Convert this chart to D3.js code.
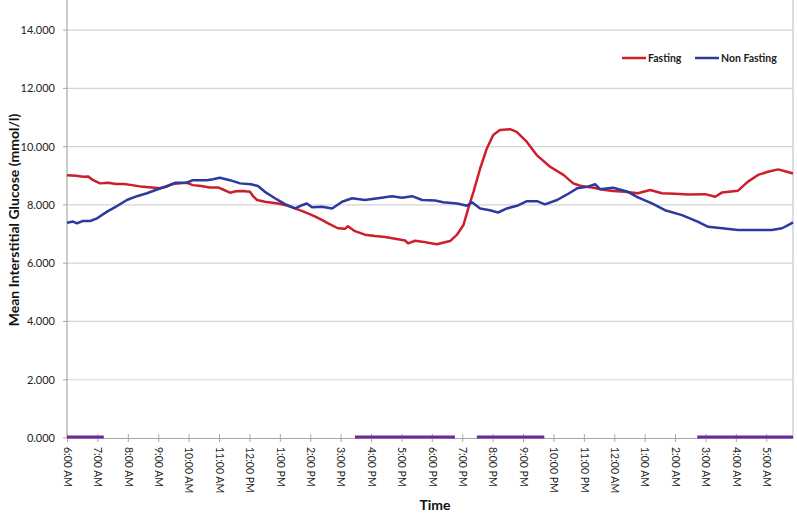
<!DOCTYPE html>
<html>
<head>
<meta charset="utf-8">
<script src="https://cdn.jsdelivr.net/npm/d3@7"></script>
<style>
  html, body { margin: 0; padding: 0; background: #fff; }
  svg { display: block; }
  text { font-family: Lato, "Open Sans", "Liberation Sans", sans-serif; }
</style>
</head>
<body>
<svg id="chart" width="797" height="514"></svg>
<script>
// Hours after 6:00 AM
const fastingHours = [0,0.3,0.53,0.69,0.86,1.09,1.35,1.61,1.88,2.14,2.5,2.8,3.06,3.26,3.49,3.72,3.95,4.14,4.41,4.7,4.97,5.13,5.36,5.56,5.76,6.02,6.12,6.25,6.51,6.94,7.24,7.5,7.76,8.06,8.32,8.59,8.91,9.14,9.24,9.47,9.8,10.13,10.46,10.89,11.12,11.22,11.45,11.68,11.88,12.17,12.43,12.6,12.82,13.04,13.2,13.37,13.59,13.81,14.02,14.24,14.57,14.79,15.12,15.45,15.89,16.33,16.65,16.88,17.31,17.7,17.96,18.36,18.78,19.18,19.57,20.0,20.43,20.99,21.32,21.55,22.07,22.4,22.73,23.06,23.39,23.68,23.88];
const fastingGlucose = [9.02,9.0,8.97,8.98,8.85,8.74,8.76,8.72,8.72,8.68,8.62,8.6,8.57,8.62,8.72,8.74,8.76,8.68,8.65,8.6,8.6,8.53,8.42,8.47,8.48,8.45,8.3,8.17,8.11,8.05,7.98,7.88,7.78,7.65,7.52,7.37,7.2,7.18,7.27,7.1,6.98,6.93,6.9,6.82,6.78,6.68,6.77,6.74,6.7,6.65,6.72,6.76,6.97,7.31,7.88,8.45,9.25,9.94,10.4,10.57,10.6,10.51,10.17,9.71,9.31,9.03,8.74,8.66,8.59,8.51,8.48,8.45,8.4,8.51,8.4,8.38,8.36,8.37,8.28,8.43,8.49,8.8,9.03,9.14,9.22,9.14,9.08];

const nonFastingHours = [0,0.2,0.33,0.53,0.76,0.99,1.32,1.64,1.97,2.3,2.63,2.96,3.29,3.55,3.95,4.14,4.6,4.8,5.03,5.36,5.69,6.05,6.28,6.51,6.84,7.17,7.5,7.7,7.89,8.06,8.39,8.72,9.05,9.38,9.8,10.23,10.69,11.02,11.35,11.68,12.11,12.37,12.83,13.16,13.32,13.59,13.91,14.18,14.47,14.8,15.13,15.46,15.72,16.12,16.45,16.78,17.11,17.37,17.53,17.96,18.45,18.78,19.24,19.67,20.23,20.76,21.09,21.55,22.07,22.63,23.19,23.52,23.78,23.88];
const nonFastingGlucose = [7.39,7.43,7.37,7.45,7.45,7.54,7.77,7.96,8.17,8.3,8.4,8.53,8.65,8.76,8.77,8.85,8.85,8.88,8.93,8.85,8.74,8.71,8.65,8.45,8.23,8.03,7.88,7.98,8.05,7.92,7.94,7.88,8.11,8.23,8.17,8.23,8.3,8.25,8.3,8.17,8.15,8.09,8.05,7.97,8.09,7.88,7.82,7.74,7.88,7.97,8.13,8.13,8.02,8.17,8.36,8.57,8.62,8.71,8.54,8.59,8.45,8.26,8.05,7.82,7.65,7.42,7.25,7.2,7.14,7.14,7.14,7.2,7.34,7.4];

// Periods marked along the baseline (hours after 6:00 AM)
const periodStart = [0, 9.47, 13.48, 20.73];
const periodEnd   = [1.21, 12.76, 15.7, 23.88];

const timeLabels = ["6:00 AM","7:00 AM","8:00 AM","9:00 AM","10:00 AM","11:00 AM","12:00 PM","1:00 PM","2:00 PM","3:00 PM","4:00 PM","5:00 PM","6:00 PM","7:00 PM","8:00 PM","9:00 PM","10:00 PM","11:00 PM","12:00 AM","1:00 AM","2:00 AM","3:00 AM","4:00 AM","5:00 AM"];
const yTicks = [0,2,4,6,8,10,12,14];

const seriesNames = ["Fasting", "Non Fasting"];
const seriesColors = ["#cc1f2b", "#2a3a9f"];

const svg = d3.select("#chart");
const x = d3.scaleLinear().domain([0, 23.88]).range([67, 793]);
const y = d3.scaleLinear().domain([0, 15]).range([438, 1]);

// gridlines
svg.append("g").selectAll("line").data(yTicks.filter(d => d > 0)).join("line")
  .attr("x1", x(0)).attr("x2", x(23.88))
  .attr("y1", d => y(d)).attr("y2", d => y(d))
  .attr("stroke", "#d4d4d4").attr("stroke-width", 1.2);

// left axis line and right border
svg.append("line").attr("x1", x(0)).attr("x2", x(0)).attr("y1", 0).attr("y2", y(0))
  .attr("stroke", "#a8a8a8").attr("stroke-width", 1.2);
svg.append("line").attr("x1", x(23.88)).attr("x2", x(23.88)).attr("y1", 0).attr("y2", y(0))
  .attr("stroke", "#c8c8c8").attr("stroke-width", 1.2);

// y tick labels
svg.append("g").selectAll("text").data(yTicks).join("text")
  .attr("x", 55).attr("y", d => y(d)).attr("dy", "0.35em")
  .attr("text-anchor", "end").attr("font-size", 11).attr("fill", "#222")
  .text(d => d3.format(".3f")(d));
// y tick marks
svg.append("g").selectAll("line").data(yTicks).join("line")
  .attr("x1", x(0) - 4).attr("x2", x(0)).attr("y1", d => y(d)).attr("y2", d => y(d))
  .attr("stroke", "#a8a8a8");

// x axis
const xAxis = d3.axisBottom(x)
  .tickValues(d3.range(timeLabels.length))
  .tickFormat((d, i) => timeLabels[i])
  .tickSizeInner(4).tickSizeOuter(0);
const gx = svg.append("g").attr("transform", `translate(0,${y(0)})`).call(xAxis);
gx.select(".domain").attr("stroke", "#a8a8a8").attr("stroke-width", 1.2);
gx.selectAll(".tick line").attr("stroke", "#a8a8a8").attr("y1", -4).attr("y2", 4);
gx.selectAll(".tick text")
  .attr("font-family", "Lato, 'Open Sans', sans-serif")
  .attr("font-size", 10.5).attr("fill", "#222")
  .attr("text-anchor", "start")
  .attr("transform", "rotate(90)")
  .attr("x", 9).attr("y", 0).attr("dy", "0.35em");

// baseline periods
svg.append("g").selectAll("line").data(periodStart).join("line")
  .attr("x1", d => x(d)).attr("x2", (d, i) => x(periodEnd[i]))
  .attr("y1", y(0) - 1).attr("y2", y(0) - 1)
  .attr("stroke", "#6a2a9a").attr("stroke-width", 3);

// lines
const line = d3.line().x(d => x(d[0])).y(d => y(d[1])).curve(d3.curveLinear);
const fastingData = fastingHours.map((h, i) => [h, fastingGlucose[i]]);
const nonFastingData = nonFastingHours.map((h, i) => [h, nonFastingGlucose[i]]);
svg.append("path").datum(fastingData).attr("d", line)
  .attr("fill", "none").attr("stroke", seriesColors[0]).attr("stroke-width", 2.5)
  .attr("stroke-linejoin", "round");
svg.append("path").datum(nonFastingData).attr("d", line)
  .attr("fill", "none").attr("stroke", seriesColors[1]).attr("stroke-width", 2.5)
  .attr("stroke-linejoin", "round");

// legend
const legendX = [622, 695];
const lg = svg.append("g");
seriesNames.forEach((name, i) => {
  lg.append("line").attr("x1", legendX[i]).attr("x2", legendX[i] + 24)
    .attr("y1", 58).attr("y2", 58).attr("stroke", seriesColors[i]).attr("stroke-width", 2.5);
  lg.append("text").attr("x", legendX[i] + 26).attr("y", 58).attr("dy", "0.35em")
    .attr("font-size", 10.5).attr("font-weight", "bold").attr("fill", "#222").text(name);
});

// axis titles
svg.append("text").attr("transform", "translate(19,220) rotate(-90)")
  .attr("text-anchor", "middle").attr("font-size", 14).attr("font-weight", "bold")
  .attr("fill", "#111").text("Mean Interstitial Glucose (mmol/l)");
svg.append("text").attr("x", 435).attr("y", 510)
  .attr("text-anchor", "middle").attr("font-size", 14).attr("font-weight", "bold")
  .attr("fill", "#111").text("Time");
</script>
</body>
</html>
